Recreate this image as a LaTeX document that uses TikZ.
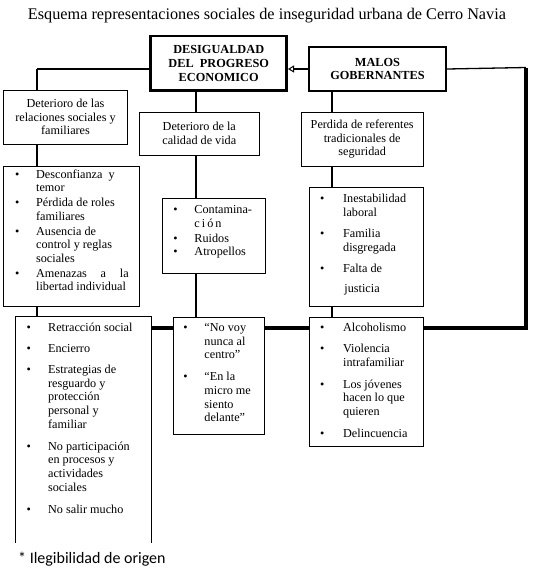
\documentclass[tikz,border=0pt]{standalone}
\usepackage{fontspec}
\setmainfont{Liberation Serif}
\newfontfamily\notefont{Carlito}
\usetikzlibrary{arrows.meta}
\newlength\bo \newlength\tx \newlength\tw
\newcommand\setl[3]{\setlength\bo{#1}\setlength\tx{#2}\setlength\tw{#3}}
\newcommand\itm[2][0pt]{\vspace{#1}\noindent\makebox[\tx][l]{\hspace*{\bo}\textbullet}\parbox[t]{\tw}{\raggedright\strut#2\strut}\par}
\tikzset{
  box/.style={draw, line width=0.9pt, inner sep=0pt, fill=white},
  topbox/.style={draw, inner sep=0pt, fill=white, align=center, font=\fontsize{12.3}{13.7}\selectfont\bfseries},
  cbox/.style={box, align=center, font=\fontsize{12.2}{13.8}\selectfont},
  lbox/.style={box, anchor=north west, font=\fontsize{12.2}{13.7}\selectfont},
  conn/.style={line width=2.4pt},
  hconn/.style={line width=1.3pt},
  thickconn/.style={line width=4.5pt, line join=miter},
}
\begin{document}
\begin{tikzpicture}[x=1pt, y=-1pt]
\useasboundingbox (0,0) rectangle (534,574);
\node[anchor=base, inner sep=0pt] (title) at (267,19) {\resizebox{478pt}{!}{\fontsize{15.5}{18}\selectfont Esquema representaciones sociales de inseguridad urbana de Cerro Navia}};

\node[topbox, line width=2.6pt, minimum width=136pt, minimum height=54.7pt] (desig) at (218.7,63.4) {DESIGUALDAD\\DEL\ \ PROGRESO\\ECONOMICO};
\node[topbox, line width=2.3pt, minimum width=137pt, minimum height=43.4pt] (malos) at (377.5,69) {MALOS\\GOBERNANTES};

\node[cbox, minimum width=124.4pt, minimum height=54pt] (det1) at (65.5,117) {Deterioro de las\\relaciones sociales y\\familiares};
\node[cbox, minimum width=120pt, minimum height=42.7pt] (det2) at (199.3,133.7) {Deterioro de la\\calidad de vida};
\node[cbox, minimum width=122.3pt, minimum height=53.7pt] (perd) at (362.2,139.2) {Perdida de referentes\\tradicionales de\\seguridad};

\node[lbox] (list1) at (3.3,165.5) {\parbox[c][140pt][t]{136pt}{\vspace*{2.7pt}\setl{11.3pt}{32.4pt}{92.6pt}%
\itm{Desconfianza\ \ y\\temor}
\itm{Pérdida de roles\\familiares}
\itm{Ausencia de\\control y reglas\\sociales}
\itm{\makebox[\tw][s]{Amenazas a la}\\libertad individual}}};

\node[lbox] (cont) at (162.3,197.7) {\parbox[c][75pt][t]{102.7pt}{\vspace*{6.1pt}\setl{10.6pt}{31.7pt}{68pt}%
\itm{Contamina-\\c\,i\,ó\,n}
\itm{Ruidos}
\itm{Atropellos}}};

\node[lbox] (inest) at (309.3,187.3) {\parbox[c][118.4pt][t]{114pt}{\vspace*{5.1pt}\setl{10.3pt}{33.4pt}{78pt}%
\itm{Inestabilidad\\laboral}
\itm[6.7pt]{Familia\\disgregada}
\itm[6.7pt]{Falta de\\[6.6pt]\hspace*{1.3pt}justicia}}};

\node[lbox, draw=none] (retr) at (15,316.7) {\parbox[c][225pt][t]{135.7pt}{\vspace*{4.7pt}\setl{11.2pt}{32.7pt}{98pt}%
\itm{Retracción social}
\itm[7.3pt]{Encierro}
\itm[7.3pt]{Estrategias de\\resguardo y\\protección\\personal y\\familiar}
\itm[7.3pt]{No participación\\en procesos y\\actividades\\sociales}
\itm[7.3pt]{No salir mucho}}};
\draw[line width=0.9pt] (retr.south west) -- (retr.north west) -- (retr.north east) -- (retr.south east);

\node[lbox] (novoy) at (173.3,316.7) {\parbox[c][117.6pt][t]{91pt}{\vspace*{4.7pt}\setl{9.6pt}{30.7pt}{58pt}%
\itm{“No voy\\nunca al\\centro”}
\itm[7.3pt]{“En la\\micro me\\siento\\delante”}}};

\node[lbox] (alc) at (309.3,316.7) {\parbox[c][129pt][t]{114pt}{\vspace*{4.7pt}\setl{10.3pt}{33.4pt}{78pt}%
\itm{Alcoholismo}
\itm[7.3pt]{Violencia\\intrafamiliar}
\itm[7.3pt]{Los jóvenes\\hacen lo que\\quieren}
\itm[7.3pt]{Delincuencia}}};

\node[anchor=base west, inner sep=0pt, font=\notefont\fontsize{16}{18}\selectfont] (note) at (18,563) {* Ilegibilidad de origen};

\coordinate (lx) at (36.7,0);
\coordinate (mx) at (196,0);
\coordinate (rx) at (332,0);
\coordinate (hl) at (0,328);
\coordinate (cr) at (526,328);
\coordinate (ct) at (526,67.5);

\draw[hconn] (desig.west |- malos.west) -- (lx |- malos.west);
\draw[conn] (lx |- malos.west) -- (lx |- det1.north);
\draw[conn] (lx |- det1.south) -- (lx |- list1.north);
\draw[conn] (lx |- list1.south) -- (lx |- retr.north);
\draw[conn] (mx |- desig.south) -- (mx |- det2.north);
\draw[conn] (mx |- det2.south) -- (mx |- cont.north);
\draw[conn] (mx |- cont.south) -- (mx |- novoy.north);
\draw[conn] (rx |- malos.south) -- (rx |- perd.north);
\draw[conn] (rx |- perd.south) -- (rx |- inest.north);
\draw[conn] (rx |- inest.south) -- (rx |- alc.north);
\draw[line width=1.2pt, -{Triangle[open, length=6pt, width=7pt, line width=1pt]}] (malos.west) -- (desig.east |- malos.west);
\draw[thickconn] (retr.east |- hl) -- (novoy.west |- hl);
\draw[thickconn] (novoy.east |- hl) -- (alc.west |- hl);
\draw[thickconn] (alc.east |- hl) -- (cr) -- (ct);
\draw[hconn] (malos.east) -- (ct);
\end{tikzpicture}
\end{document}
